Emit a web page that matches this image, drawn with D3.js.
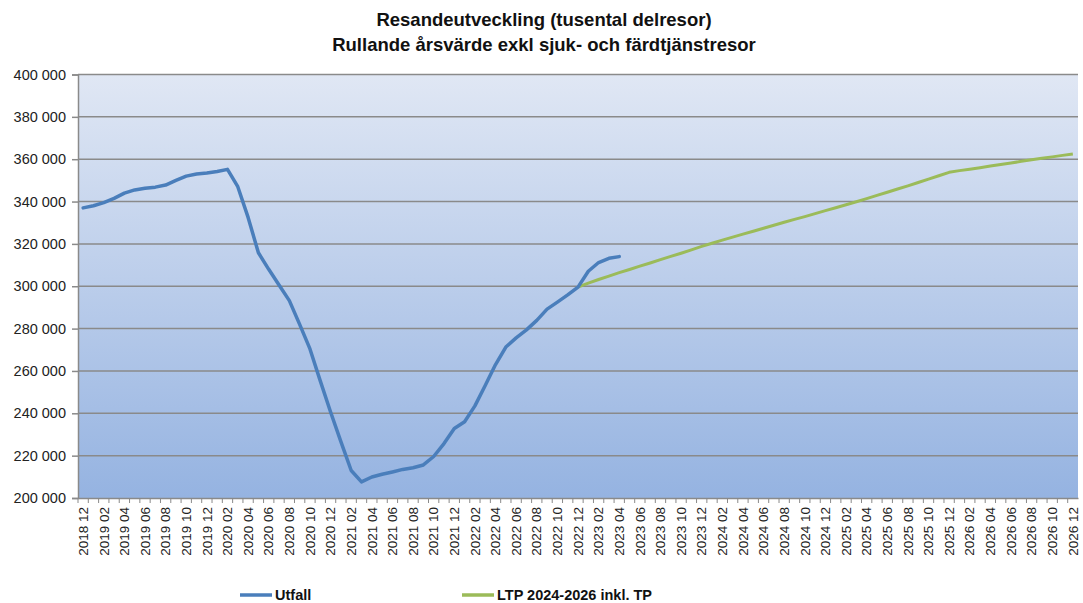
<!DOCTYPE html>
<html>
<head>
<meta charset="utf-8">
<script src="https://cdn.jsdelivr.net/npm/d3@7"></script>
<style>
  body { margin: 0; background: #fff; }
  svg { display: block; font-family: "Liberation Sans", Arial, sans-serif; }
</style>
</head>
<body>
<svg width="1083" height="603"></svg>
<script>
// months 2018 12 .. 2026 12
var months = [];
for (var yr = 2018; yr <= 2026; yr++) {
  for (var m = 1; m <= 12; m++) {
    if (yr == 2018 && m < 12) continue;
    months.push(yr + " " + (m < 10 ? "0" + m : "" + m));
  }
}

var utfall = [337000, 338000, 339500, 341500, 344000, 345500, 346300, 346800, 347800, 350000,
  352000, 353000, 353500, 354200, 355200, 347000, 332500, 315800, 308000, 300600,
  293200, 282000, 270400, 255300, 240600, 226600, 213000, 207600, 209900, 211200,
  212300, 213500, 214300, 215600, 219600, 225700, 232800, 236000, 243500, 253100,
  263000, 271300, 275600, 279400, 283900, 289200, 292500, 295900, 299600, 307100,
  311200, 313200, 314000];

// LTP starts at 2022 12 (index 48)
var ltpStart = 48;
var ltp = [299600, 301500, 303200, 304800, 306400, 307900, 309500, 311000, 312600, 314100,
  315600, 317200, 318800, 320300, 321800, 323200, 324600, 326000, 327400, 328800,
  330200, 331600, 332900, 334300, 335700, 337100, 338500, 339900, 341400, 342900,
  344400, 345900, 347400, 349000, 350600, 352200, 353800, 354600, 355300, 356000,
  356800, 357500, 358200, 359000, 359700, 360400, 361100, 361800, 362500];

var yTicks = [200000, 220000, 240000, 260000, 280000, 300000, 320000, 340000, 360000, 380000, 400000];
var titleLines = ["Resandeutveckling (tusental delresor)", "Rullande årsvärde exkl sjuk- och färdtjänstresor"];
var legendNames = ["Utfall", "LTP 2024-2026 inkl. TP"];

var svg = d3.select("svg");
var plotL = 78, plotR = 1078, plotT = 74.5, plotB = 498;

var x = d3.scaleBand().domain(months).range([plotL, plotR]).padding(0);
var y = d3.scaleLinear().domain([200000, 400000]).range([plotB, plotT]);
var fmt = d3.formatLocale({decimal: ",", thousands: " ", grouping: [3], currency: ["", ""]}).format(",d");

var defs = svg.append("defs");
var grad = defs.append("linearGradient").attr("id", "bg").attr("x1", 0).attr("y1", 0).attr("x2", 0).attr("y2", 1);
grad.append("stop").attr("offset", "0%").attr("stop-color", "#e0e7f4");
grad.append("stop").attr("offset", "100%").attr("stop-color", "#95b3e1");

svg.append("rect")
  .attr("x", plotL).attr("y", plotT)
  .attr("width", plotR - plotL).attr("height", plotB - plotT)
  .attr("fill", "url(#bg)");

// gridlines
svg.append("g").selectAll("line")
  .data(yTicks.slice(1))
  .enter().append("line")
  .attr("x1", plotL).attr("x2", plotR)
  .attr("y1", function(d) { return y(d); })
  .attr("y2", function(d) { return y(d); })
  .attr("stroke", "#8a8a8a")
  .attr("stroke-width", 1.5);

// y axis
var yAxis = svg.append("g")
  .attr("transform", "translate(" + plotL + ",0)")
  .call(d3.axisLeft(y).tickValues(yTicks).tickFormat(fmt).tickSize(6).tickPadding(6));
yAxis.select(".domain").attr("stroke", "#8a8a8a").attr("stroke-width", 1.5);
yAxis.selectAll(".tick line").attr("stroke", "#8a8a8a").attr("stroke-width", 1.5);
yAxis.selectAll("text").attr("font-size", 14.5).attr("fill", "#222");

// x axis
var xAxis = svg.append("g")
  .attr("transform", "translate(0," + plotB + ")")
  .call(d3.axisBottom(x).tickSize(0).tickPadding(0));
xAxis.select(".domain").attr("stroke", "#8a8a8a").attr("stroke-width", 1.5);
xAxis.selectAll(".tick text")
  .attr("font-size", 13.5)
  .attr("fill", "#222")
  .attr("transform", "rotate(-90)")
  .attr("text-anchor", "end")
  .attr("x", -9)
  .attr("y", 0)
  .attr("dy", "0.35em")
  .style("display", function(d, i) { return i % 2 == 0 ? null : "none"; });

// minor ticks at category boundaries
svg.append("g").selectAll("line")
  .data(months)
  .enter().append("line")
  .attr("x1", function(d) { return x(d); })
  .attr("x2", function(d) { return x(d); })
  .attr("y1", plotB).attr("y2", plotB + 5)
  .attr("stroke", "#8a8a8a");

var line = d3.line()
  .x(function(d) { return x(d.m) + x.bandwidth() / 2; })
  .y(function(d) { return y(d.v); });

var utfallData = utfall.map(function(v, i) { return {m: months[i], v: v}; });
var ltpData = ltp.map(function(v, i) { return {m: months[ltpStart + i], v: v}; });

svg.append("path")
  .datum(ltpData)
  .attr("fill", "none")
  .attr("stroke", "#9bbb59")
  .attr("stroke-width", 3)
  .attr("stroke-linejoin", "round")
  .attr("d", line);

svg.append("path")
  .datum(utfallData)
  .attr("fill", "none")
  .attr("stroke", "#4a7ebb")
  .attr("stroke-width", 3.5)
  .attr("stroke-linejoin", "round")
  .attr("stroke-linecap", "round")
  .attr("d", line);

// title
svg.append("g").selectAll("text")
  .data(titleLines)
  .enter().append("text")
  .attr("x", 544)
  .attr("y", function(d, i) { return 26 + i * 25; })
  .attr("text-anchor", "middle")
  .attr("font-size", 18.5)
  .attr("font-weight", "bold")
  .attr("fill", "#111")
  .text(function(d) { return d; });

// legend
var legendColors = ["#4a7ebb", "#9bbb59"];
var legendX = [240, 462];
var lg = svg.append("g").selectAll("g")
  .data(legendNames)
  .enter().append("g")
  .attr("transform", function(d, i) { return "translate(" + legendX[i] + ",595)"; });
lg.append("line")
  .attr("x1", 0).attr("x2", 32)
  .attr("stroke", function(d, i) { return legendColors[i]; })
  .attr("stroke-width", 3.5);
lg.append("text")
  .attr("x", 35).attr("dy", "0.35em")
  .attr("font-size", 14.5)
  .attr("font-weight", "bold")
  .attr("fill", "#111")
  .text(function(d) { return d; });
</script>
</body>
</html>
